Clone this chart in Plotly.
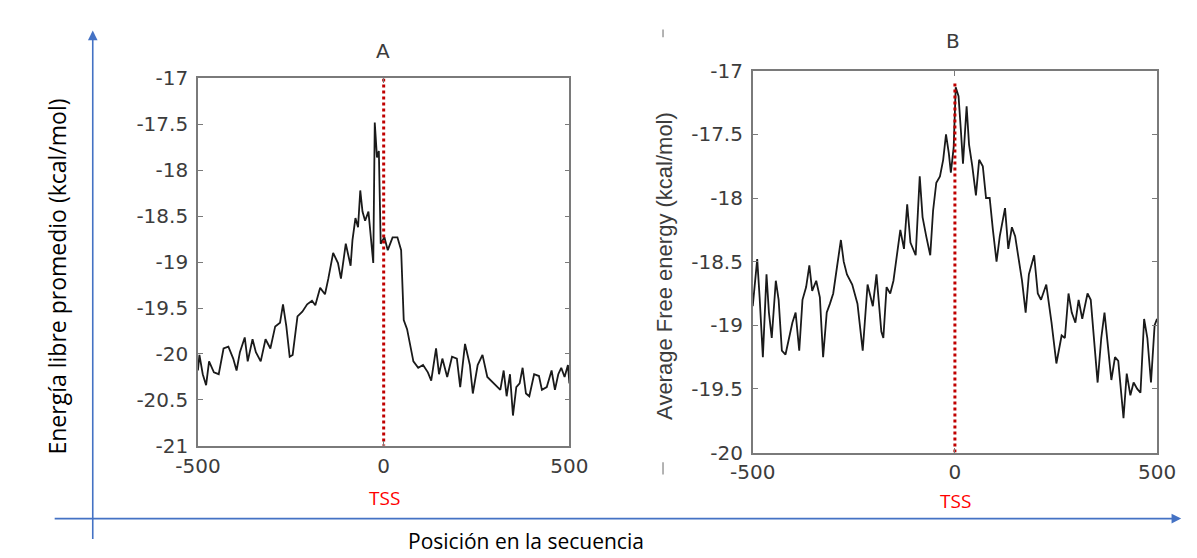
import plotly.graph_objects as go

W, H = 1197, 558

# ---------------- data ----------------
posA = [-500, -496, -487, -478, -470, -457, -444, -431, -418, -405, -396, -387, -374, -366,
        -353, -344, -331, -318, -305, -292, -279, -271, -262, -253, -245, -232, -219, -206,
        -193, -184, -171, -158, -149, -136, -123, -115, -102, -89, -84, -76, -69, -63, -57,
        -50, -41, -34, -28, -24, -18, -13, -8, 2, 11, 24, 37, 47, 54, 63, 71, 80, 93, 106,
        119, 128, 141, 149, 158, 171, 184, 197, 206, 219, 232, 240, 253, 266, 279, 297, 314,
        323, 331, 340, 348, 357, 366, 374, 383, 392, 405, 418, 426, 439, 452, 461, 470, 478,
        487, 496, 500]
energyA = [-20.18, -20.01, -20.22, -20.34, -20.08, -20.20, -20.22, -19.94, -19.92, -20.05,
           -20.18, -19.98, -19.82, -20.08, -19.84, -19.98, -20.08, -19.84, -19.94, -19.70,
           -19.66, -19.46, -19.70, -20.03, -20.01, -19.59, -19.54, -19.46, -19.42, -19.47,
           -19.28, -19.35, -19.18, -18.90, -19.01, -19.18, -18.80, -19.04, -18.76, -18.52,
           -18.62, -18.22, -18.45, -18.55, -18.45, -18.73, -19.01, -17.48, -17.86, -17.79,
           -18.80, -18.73, -18.87, -18.73, -18.73, -18.87, -19.63, -19.73, -19.91, -20.08,
           -20.15, -20.12, -20.20, -20.29, -19.94, -20.22, -20.05, -20.25, -20.03, -20.05,
           -20.36, -19.89, -20.12, -20.43, -20.12, -20.01, -20.25, -20.32, -20.39, -20.18,
           -20.46, -20.22, -20.67, -20.36, -20.32, -20.15, -20.43, -20.46, -20.22, -20.24,
           -20.39, -20.36, -20.18, -20.39, -20.22, -20.15, -20.25, -20.12, -20.32]

posB = [-500, -496, -489, -483, -475, -466, -460, -453, -443, -436, -428, -419, -411, -402,
        -394, -385, -377, -368, -360, -353, -343, -334, -326, -317, -309, -301, -292, -282,
        -275, -267, -254, -241, -228, -216, -203, -194, -182, -177, -169, -160, -152, -143,
        -135, -126, -118, -110, -97, -87, -80, -71, -61, -54, -46, -37, -29, -22, -15, -10,
        -3, 2, 9, 15, 20, 29, 35, 43, 52, 60, 69, 77, 86, 94, 103, 111, 124, 132, 141, 149,
        158, 166, 175, 183, 196, 205, 213, 226, 239, 251, 264, 272, 281, 289, 298, 306, 315,
        328, 336, 345, 353, 362, 370, 379, 387, 396, 404, 417, 425, 434, 442, 451, 459, 468,
        476, 485, 494, 500]
energyB = [-18.85, -18.70, -18.48, -18.78, -19.25, -18.60, -18.90, -19.10, -18.65, -18.80,
           -19.20, -19.23, -19.10, -18.98, -18.90, -19.20, -18.80, -18.70, -18.53, -18.73,
           -18.65, -18.78, -19.25, -18.90, -18.83, -18.75, -18.55, -18.33, -18.50, -18.60,
           -18.68, -18.83, -19.20, -18.68, -18.85, -18.60, -19.05, -19.10, -18.70, -18.75,
           -18.65, -18.45, -18.25, -18.40, -18.05, -18.35, -18.45, -17.83, -18.15, -18.30,
           -18.45, -18.10, -17.88, -17.83, -17.70, -17.50, -17.65, -17.80, -17.60, -17.13,
           -17.20, -17.48, -17.73, -17.28, -17.58, -17.75, -17.98, -17.70, -17.75, -18.00,
           -18.00, -18.25, -18.50, -18.30, -18.08, -18.40, -18.23, -18.30, -18.50, -18.65,
           -18.90, -18.60, -18.45, -18.75, -18.80, -18.68, -18.98, -19.30, -19.08, -19.10,
           -18.75, -18.90, -18.98, -18.80, -18.95, -18.75, -18.80, -19.15, -19.45, -19.10,
           -18.90, -19.18, -19.43, -19.25, -19.28, -19.73, -19.38, -19.55, -19.45, -19.50,
           -19.53, -18.95, -19.10, -19.45, -19.00, -18.95]

x_ticks = [-500, 0, 500]
x_tick_labels = ["-500", "0", "500"]
yA_ticks = [-21, -20.5, -20, -19.5, -19, -18.5, -18, -17.5, -17]
yA_tick_labels = ["-21", "-20.5", "-20", "-19.5", "-19", "-18.5", "-18", "-17.5", "-17"]
yB_ticks = [-20, -19.5, -19, -18.5, -18, -17.5, -17]
yB_tick_labels = ["-20", "-19.5", "-19", "-18.5", "-18", "-17.5", "-17"]

tss_pos = 0
tssA_span = [-17.0, -21.0]
tssB_span = [-17.1, -20.0]

title_A = "A"
title_B = "B"
ylabel_left = "Energía libre promedio (kcal/mol)"
ylabel_B = "Average Free energy (kcal/mol)"
xlabel_bottom = "Posición en la secuencia"
tss_label = "TSS"


def px(x):
    return x / W


def py(y):
    return 1 - y / H


TICK_FONT = dict(family="DejaVu Sans, Liberation Sans, sans-serif", size=20, color="#3c3c3c")
LABEL_FONT = dict(family="Liberation Sans, Arial, sans-serif", size=22, color="#3c3c3c")
OFFICE_FONT = "Open Sans, Noto Sans, sans-serif"
AX_COLOR = "#7a7a7a"
LINE_COLOR = "#1a1a1a"
RED = "#c00000"
BLUE = "#4472C4"

fig = go.Figure()

fig.add_trace(go.Scatter(x=posA, y=energyA, xaxis="x", yaxis="y", mode="lines",
                         line=dict(color=LINE_COLOR, width=1.8), showlegend=False,
                         hoverinfo="skip"))
fig.add_trace(go.Scatter(x=[tss_pos, tss_pos], y=tssA_span, xaxis="x", yaxis="y",
                         mode="lines", line=dict(color=RED, width=3, dash="dot"),
                         showlegend=False, hoverinfo="skip"))

fig.add_trace(go.Scatter(x=posB, y=energyB, xaxis="x2", yaxis="y2", mode="lines",
                         line=dict(color=LINE_COLOR, width=1.8), showlegend=False,
                         hoverinfo="skip"))
fig.add_trace(go.Scatter(x=[tss_pos, tss_pos], y=tssB_span, xaxis="x2", yaxis="y2",
                         mode="lines", line=dict(color=RED, width=3, dash="dot"),
                         showlegend=False, hoverinfo="skip"))

axis_common = dict(showline=True, linewidth=1.6, linecolor=AX_COLOR, mirror="ticks",
                   ticks="inside", ticklen=5, tickcolor=AX_COLOR, tickwidth=1,
                   showgrid=False, zeroline=False, tickfont=TICK_FONT, fixedrange=True)

fig.update_layout(
    width=W, height=H, autosize=False,
    margin=dict(l=0, r=0, t=0, b=0),
    paper_bgcolor="white", plot_bgcolor="white",
    xaxis=dict(domain=[px(173), px(558)], anchor="y", range=[-500, 500], ticklabelstandoff=1,
               tickmode="array", tickvals=x_ticks, ticktext=x_tick_labels, **axis_common),
    yaxis=dict(domain=[py(445), py(61)], anchor="x", range=[-21, -17], ticklabelstandoff=4,
               tickmode="array", tickvals=yA_ticks, ticktext=yA_tick_labels, **axis_common),
    xaxis2=dict(domain=[px(748), px(1167)], anchor="y2", range=[-500, 500], ticklabelstandoff=1,
                tickmode="array", tickvals=x_ticks, ticktext=x_tick_labels, **axis_common),
    yaxis2=dict(domain=[py(452), py(53)], anchor="x2", range=[-20, -17], ticklabelstandoff=4,
                tickmode="array", tickvals=yB_ticks, ticktext=yB_tick_labels, **axis_common),
)


def label(text, x, y, font, angle=0):
    return dict(x=px(x), y=py(y), xref="paper", yref="paper", text=text, textangle=angle,
                xanchor="center", yanchor="middle", showarrow=False, font=font)


TSS_FONT = dict(family=OFFICE_FONT, size=19, color="#ff0000")
ann = [
    label(title_A, 365, 32, TICK_FONT),
    label(title_B, 956, 22, TICK_FONT),
    label(ylabel_B, 657, 257, LABEL_FONT, -90),
    label(ylabel_left, 27, 268, dict(family=OFFICE_FONT, size=23, color="#000000"), -90),
    label(xlabel_bottom, 513, 544, dict(family=OFFICE_FONT, size=21, color="#000000")),
    label(tss_label, 366, 500, TSS_FONT),
    label(tss_label, 958, 503, TSS_FONT),
]
# blue axis arrows (tail offsets in pixels)
ann.append(dict(x=px(64), y=py(11), ax=0, ay=521 - 11, xref="paper", yref="paper",
                axref="pixel", ayref="pixel", text="", showarrow=True, arrowhead=2,
                arrowsize=1.2, arrowwidth=1.6, arrowcolor=BLUE))
ann.append(dict(x=px(1192), y=py(521), ax=-(1192 - 64), ay=0, xref="paper", yref="paper",
                axref="pixel", ayref="pixel", text="", showarrow=True, arrowhead=2,
                arrowsize=1.2, arrowwidth=1.6, arrowcolor=BLUE))
fig.update_layout(annotations=ann)

# small gray separator marks
fig.update_layout(shapes=[
    dict(type="line", xref="paper", yref="paper", x0=px(655), x1=px(655), y0=py(10), y1=py(18),
         line=dict(color="#9a9a9a", width=1.5)),
    dict(type="line", xref="paper", yref="paper", x0=px(655), x1=px(655), y0=py(462), y1=py(475),
         line=dict(color="#9a9a9a", width=1.5)),
])

fig.write_html("out.html")
